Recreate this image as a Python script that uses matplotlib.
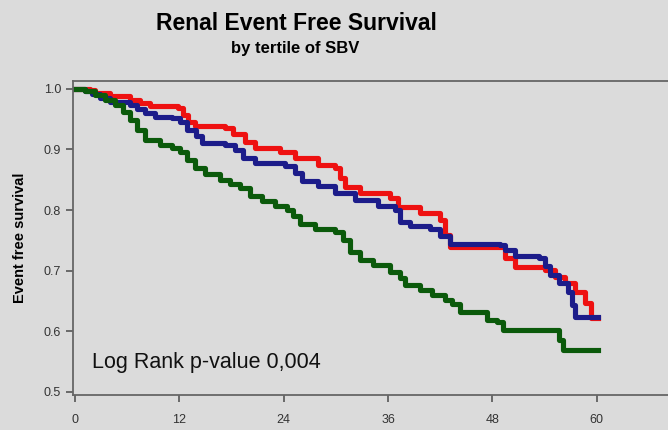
import matplotlib
matplotlib.use('Agg')
import matplotlib.pyplot as plt

plt.rcParams['font.family'] = ['Liberation Sans', 'DejaVu Sans']

# Kaplan-Meier steps (months, survival)
red_t = [0, 1.7, 2.3, 4.0, 6.3, 7.5, 8.6, 11.8, 12.4, 13.0, 13.8, 17.2, 18.2, 19.5, 20.7,
         23.6, 25.3, 27.9, 29.9, 30.5, 31.0, 32.8, 36.2, 37.1, 39.7, 42.0, 42.5, 43.1,
         49.4, 50.6, 54.0, 55.2, 56.3, 57.5, 58.6, 59.4, 60.2]
red_s = [1.0, 0.998, 0.993, 0.988, 0.982, 0.977, 0.972, 0.969, 0.957, 0.946, 0.939, 0.936,
         0.926, 0.913, 0.903, 0.896, 0.886, 0.875, 0.870, 0.853, 0.838, 0.828, 0.820, 0.805,
         0.795, 0.784, 0.759, 0.739, 0.721, 0.706, 0.701, 0.690, 0.680, 0.665, 0.647, 0.622,
         0.622]

blue_t = [0, 1.1, 2.0, 2.9, 4.0, 6.3, 7.1, 8.0, 9.2, 11.1, 12.1, 12.9, 13.9, 14.6, 17.2,
          18.4, 19.3, 20.7, 24.1, 25.3, 26.1, 27.9, 29.9, 32.2, 34.8, 36.8, 37.4, 38.5,
          40.8, 42.0, 43.1, 48.9, 49.4, 50.6, 53.4, 54.0, 54.6, 55.7, 56.7, 57.2, 57.5, 60.2]
blue_s = [1.0, 0.997, 0.992, 0.985, 0.979, 0.974, 0.967, 0.960, 0.954, 0.952, 0.946, 0.932,
          0.922, 0.911, 0.908, 0.899, 0.886, 0.878, 0.873, 0.861, 0.848, 0.840, 0.828, 0.817,
          0.807, 0.800, 0.781, 0.774, 0.769, 0.757, 0.744, 0.742, 0.734, 0.724, 0.721, 0.708,
          0.693, 0.680, 0.665, 0.644, 0.624, 0.624]

green_t = [0, 1.1, 2.3, 3.4, 4.6, 5.5, 6.3, 7.1, 8.0, 9.8, 11.1, 12.1, 12.9, 13.8, 14.9,
           16.7, 17.8, 19.0, 20.1, 21.5, 23.0, 24.4, 25.1, 25.9, 27.6, 29.9, 30.8, 31.6,
           32.8, 34.3, 36.2, 37.4, 37.9, 39.7, 41.1, 42.5, 43.4, 44.3, 47.4, 48.5, 49.2,
           55.7, 56.1, 60.2]
green_s = [1.0, 0.997, 0.990, 0.982, 0.974, 0.962, 0.949, 0.932, 0.916, 0.908, 0.903, 0.896,
           0.883, 0.870, 0.860, 0.850, 0.843, 0.837, 0.823, 0.815, 0.807, 0.800, 0.790, 0.777,
           0.769, 0.764, 0.751, 0.731, 0.718, 0.710, 0.698, 0.688, 0.677, 0.668, 0.660, 0.652,
           0.645, 0.632, 0.619, 0.616, 0.602, 0.586, 0.569, 0.569]

xticks = [0, 12, 24, 36, 48, 60]
yticks = [0.5, 0.6, 0.7, 0.8, 0.9, 1.0]

bg = '#dbdbdb'
fig = plt.figure(figsize=(6.68, 4.30), dpi=100, facecolor=bg)
ax = fig.add_axes([73/668, 35/430, 595/668, 314/430], facecolor=bg)

lw = 3.7
ax.plot(red_t, red_s, drawstyle='steps-post', color='#ee1111', lw=lw)
ax.plot(blue_t, blue_s, drawstyle='steps-post', color='#1c1c8a', lw=lw)
ax.plot(green_t, green_s, drawstyle='steps-post', color='#0b5a0b', lw=lw)

ax.set_xlim(-0.23, 68.2)
ax.set_ylim(0.495, 1.013)
ax.set_xticks(xticks)
ax.set_xticklabels([str(v) for v in xticks])
ax.set_yticks(yticks)
ax.set_yticklabels(['%.1f' % v for v in yticks])
ax.tick_params(labelsize=9, colors='#555555', labelcolor='#333333', length=5, width=1.2)
ax.tick_params(axis='x', pad=9)

for side in ['left', 'bottom', 'top']:
    ax.spines[side].set_color('#666666')
    ax.spines[side].set_linewidth(1.3)
ax.spines['right'].set_visible(False)

fig.text(20/668, 1 - 238/430, 'Event free survival', rotation=90, fontsize=10.5,
         fontweight='bold', ha='center', va='center')

ax.text(2.0, 0.548, 'Log Rank p-value 0,004', fontsize=15.5, color='#111111',
        ha='left', va='center')

fig.text(296/668, 1 - 23/430, 'Renal Event Free Survival', fontsize=16.5,
         fontweight='bold', ha='center', va='center')
fig.text(295/668, 1 - 49/430, 'by tertile of SBV', fontsize=12,
         fontweight='bold', ha='center', va='center')

fig.savefig('out.png', dpi=100, facecolor=bg)
